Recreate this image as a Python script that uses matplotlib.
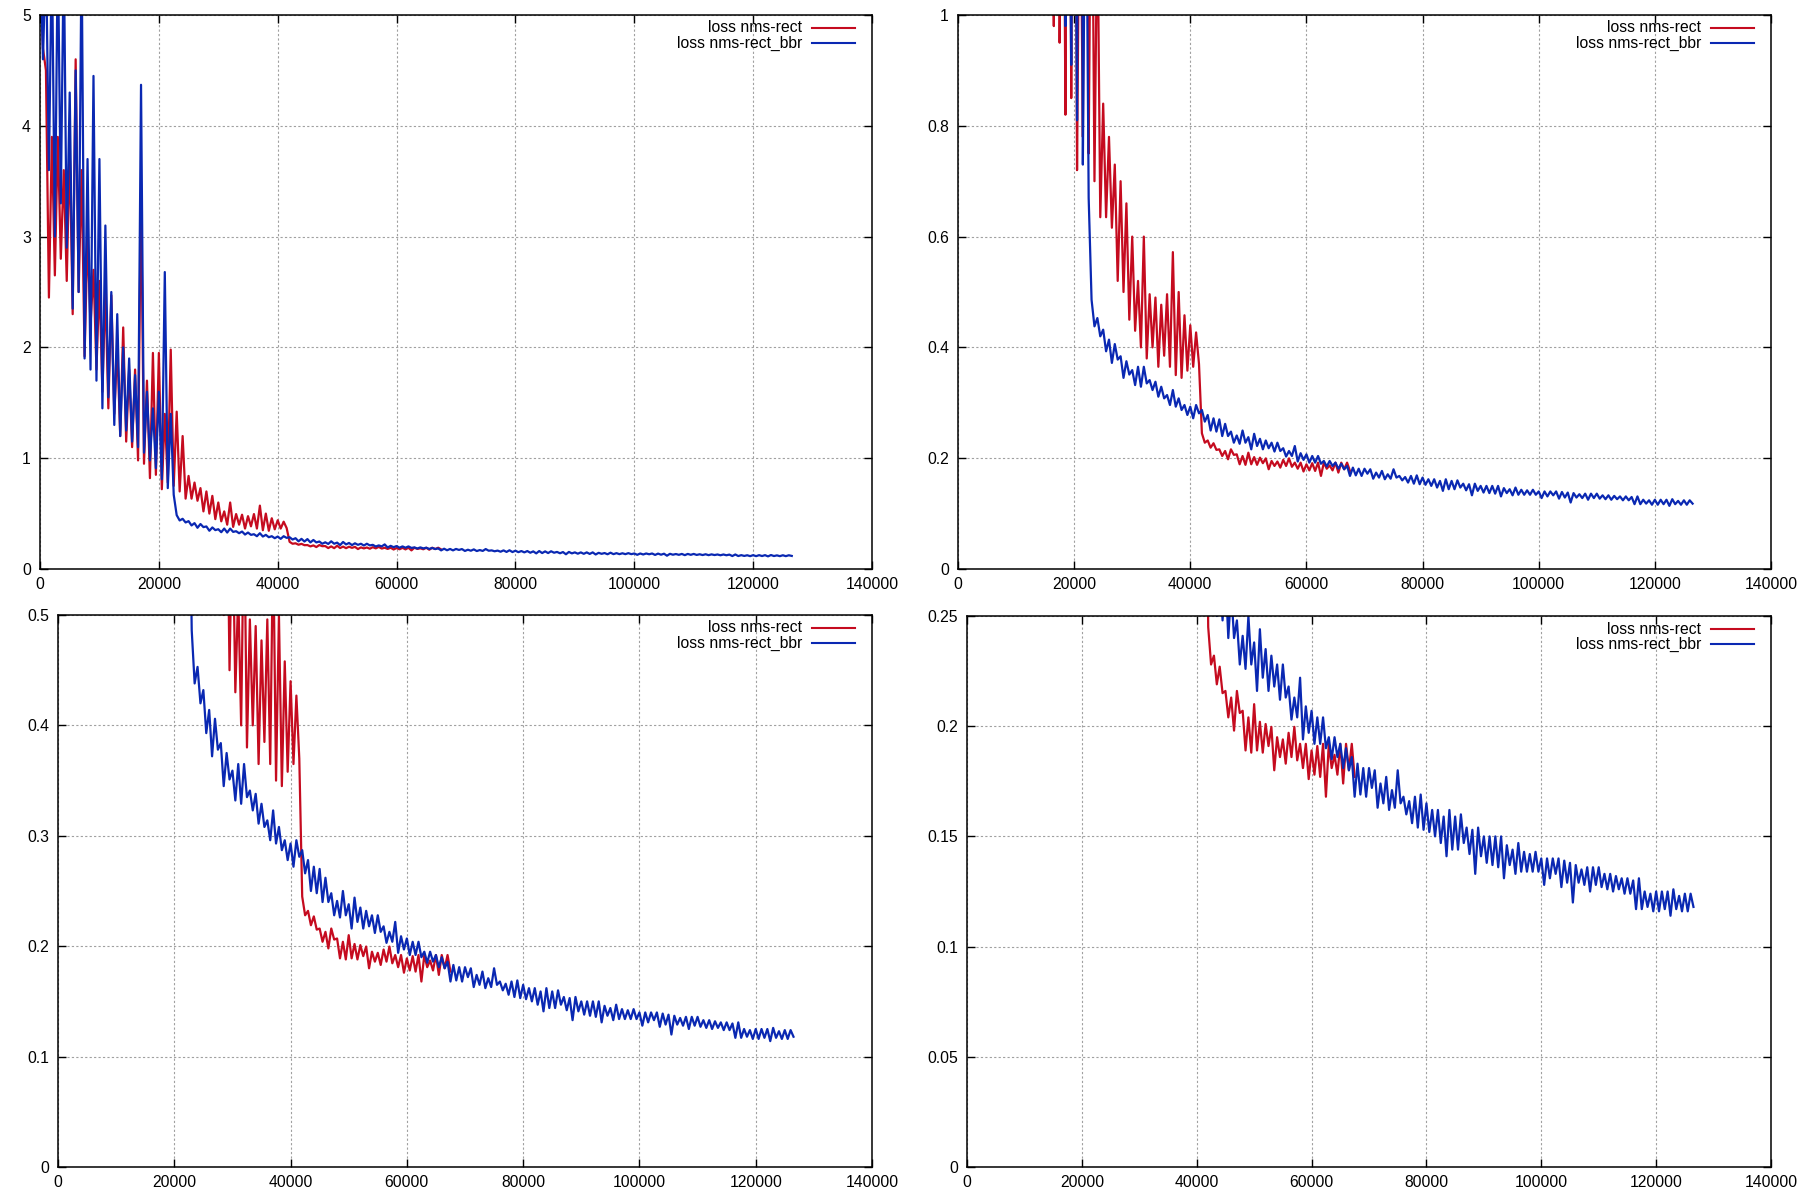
import numpy as np
import matplotlib
matplotlib.use("Agg")
import matplotlib.pyplot as plt
from matplotlib.lines import Line2D
from matplotlib.ticker import FuncFormatter, MultipleLocator

plt.rcParams['font.family'] = ['Liberation Sans', 'DejaVu Sans']

# loss, per 1000-iteration bin: upper and lower edge of the noisy band
red_k = list(range(0, 68))
red_hi = [5.6, 4.5, 3.9, 3.9, 3.6, 3.8, 4.6, 3.6, 3.0, 2.7,
          2.6, 2.53, 2.47, 2.0, 2.18, 1.8, 1.8, 3.4, 1.7, 1.95,
          1.95, 1.4, 1.98, 1.42, 1.2, 0.84, 0.78, 0.73, 0.70, 0.66,
          0.60, 0.52, 0.60, 0.496, 0.49, 0.477, 0.496, 0.572, 0.50, 0.458,
          0.44, 0.427, 0.245, 0.232, 0.227, 0.216, 0.213, 0.216, 0.207, 0.204,
          0.210, 0.202, 0.201, 0.1997, 0.195, 0.194, 0.197, 0.1997, 0.192, 0.192,
          0.189, 0.191, 0.192, 0.192, 0.187, 0.192, 0.192, 0.192]
red_lo = [4.7, 2.45, 2.65, 2.8, 2.6, 2.3, 2.5, 1.92, 2.2, 1.8,
          1.6, 1.45, 1.4, 1.2, 1.15, 1.1, 0.98, 0.95, 0.82, 0.85,
          0.72, 0.78, 0.75, 0.70, 0.635, 0.635, 0.616, 0.52, 0.50, 0.45,
          0.43, 0.40, 0.38, 0.40, 0.365, 0.385, 0.365, 0.35, 0.345, 0.358,
          0.365, 0.37, 0.228, 0.219, 0.215, 0.204, 0.198, 0.206, 0.189, 0.188,
          0.189, 0.188, 0.191, 0.180, 0.186, 0.183, 0.186, 0.1845, 0.181, 0.176,
          0.178, 0.177, 0.168, 0.181, 0.178, 0.174, 0.180, 0.177]

blue_k = list(range(0, 127))
blue_hi = [5.6, 5.6, 5.6, 5.6, 5.6, 4.3, 4.5, 5.6, 3.7, 4.45,
           3.7, 3.1, 2.5, 2.3, 2.0, 1.9, 1.75, 4.37, 1.6, 1.45,
           1.6, 2.68, 1.4, 0.486, 0.453, 0.432, 0.414, 0.406, 0.384, 0.375,
           0.359, 0.365, 0.365, 0.341, 0.338, 0.329, 0.314, 0.323, 0.308, 0.296,
           0.293, 0.296, 0.287, 0.278, 0.272, 0.270, 0.262, 0.248, 0.241, 0.250,
           0.238, 0.244, 0.235, 0.232, 0.228, 0.228, 0.218, 0.213, 0.222, 0.209,
           0.207, 0.204, 0.204, 0.195, 0.195, 0.192, 0.190, 0.186, 0.183, 0.181,
           0.181, 0.180, 0.174, 0.177, 0.171, 0.180, 0.168, 0.166, 0.168, 0.169,
           0.165, 0.162, 0.162, 0.159, 0.162, 0.159, 0.160, 0.154, 0.153, 0.154,
           0.150, 0.150, 0.150, 0.150, 0.146, 0.144, 0.147, 0.143, 0.142, 0.143,
           0.140, 0.140, 0.140, 0.140, 0.139, 0.138, 0.137, 0.135, 0.136, 0.136,
           0.136, 0.133, 0.133, 0.132, 0.131, 0.131, 0.130, 0.131, 0.125, 0.124,
           0.125, 0.125, 0.125, 0.126, 0.123, 0.124, 0.124]
blue_lo = [4.6, 3.6, 3.0, 3.3, 2.9, 2.35, 2.5, 1.9, 1.8, 1.7,
           1.45, 1.55, 1.3, 1.2, 1.25, 1.15, 1.1, 1.05, 0.98, 0.91,
           0.81, 0.73, 0.67, 0.438, 0.420, 0.393, 0.372, 0.378, 0.345, 0.351,
           0.332, 0.329, 0.335, 0.323, 0.311, 0.308, 0.296, 0.293, 0.287, 0.278,
           0.272, 0.281, 0.266, 0.250, 0.248, 0.240, 0.240, 0.228, 0.226, 0.228,
           0.216, 0.222, 0.216, 0.218, 0.212, 0.213, 0.203, 0.204, 0.194, 0.197,
           0.192, 0.192, 0.190, 0.185, 0.186, 0.181, 0.180, 0.168, 0.169, 0.168,
           0.172, 0.163, 0.165, 0.162, 0.163, 0.165, 0.160, 0.156, 0.154, 0.153,
           0.152, 0.150, 0.147, 0.141, 0.144, 0.144, 0.147, 0.142, 0.133, 0.141,
           0.138, 0.137, 0.136, 0.131, 0.137, 0.133, 0.134, 0.134, 0.134, 0.134,
           0.128, 0.131, 0.133, 0.127, 0.129, 0.120, 0.129, 0.128, 0.125, 0.128,
           0.127, 0.126, 0.125, 0.126, 0.124, 0.124, 0.117, 0.117, 0.118, 0.116,
           0.116, 0.117, 0.114, 0.117, 0.116, 0.116, 0.118]

labels = ['loss nms-rect', 'loss nms-rect_bbr']
y_tops = [5, 1, 0.5, 0.25]
y_steps = [1, 0.2, 0.1, 0.05]

RED = '#c50b1f'
BLUE = '#0a28b2'
W, H = 1800, 1200
# axes boxes in pixels: left, top, right, bottom
boxes = [(40, 15, 872, 569), (958, 15, 1771, 569),
         (58, 615, 872, 1167), (967, 616, 1771, 1167)]


def band(k, hi, lo):
    k = np.asarray(k, dtype=float)
    xs = np.column_stack([k, k + 0.5]).ravel() * 1000
    ys = np.column_stack([hi, lo]).ravel()
    return xs, ys


rx, ry = band(red_k, red_hi, red_lo)
bx, by = band(blue_k, blue_hi, blue_lo)

fig = plt.figure(figsize=(18, 12), dpi=100)
fs = 11.3

for (l, t, r, b), ytop, ystep in zip(boxes, y_tops, y_steps):
    ax = fig.add_axes([l / W, 1 - b / H, (r - l) / W, (b - t) / H])
    ax.plot(rx, ry, color=RED, lw=1.6)
    ax.plot(bx, by, color=BLUE, lw=1.6)
    ax.set_xlim(0, 140000)
    ax.set_ylim(0, ytop)
    ax.xaxis.set_major_locator(MultipleLocator(20000))
    ax.yaxis.set_major_locator(MultipleLocator(ystep))
    ax.xaxis.set_major_formatter(FuncFormatter(lambda v, p: '%d' % round(v)))
    ax.yaxis.set_major_formatter(FuncFormatter(lambda v, p: '%g' % round(v, 4)))
    ax.tick_params(direction='in', length=6, width=1.0, top=True, right=True,
                   labelsize=fs, colors='black')
    ax.tick_params(axis='y', pad=6.5)
    ax.tick_params(axis='x', pad=5.5)
    ax.grid(True, color='#a0a0a0', linestyle=(0, (2, 2)), linewidth=0.8)
    for s in ax.spines.values():
        s.set_linewidth(1.1)

    # gnuplot-style key, top right inside the frame
    for i, (lab, c) in enumerate(zip(labels, [RED, BLUE])):
        yy = 1 - (t + 13 + 15 * i) / H
        fig.text((r - 70) / W, yy, lab, ha='right', va='center', fontsize=fs)
        fig.add_artist(Line2D([(r - 60) / W, (r - 17) / W], [yy, yy],
                              transform=fig.transFigure, color=c, lw=1.5))

fig.savefig('out.png', dpi=100)
